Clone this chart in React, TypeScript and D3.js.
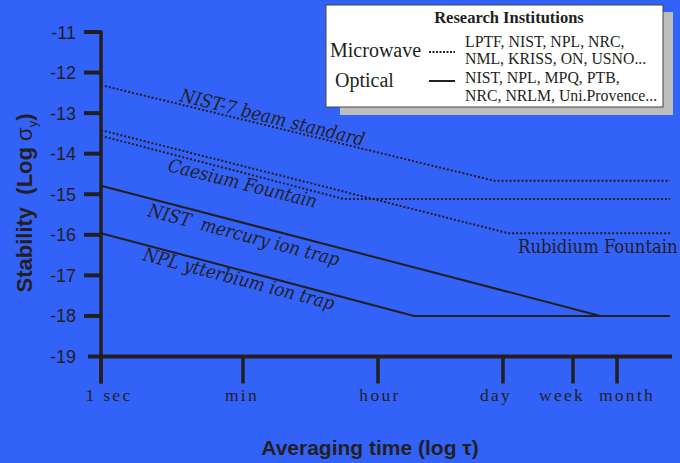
import React from 'react';
import * as d3 from 'd3';

// ---- data ----
const yTickValues = [-11, -12, -13, -14, -15, -16, -17, -18, -19];
const xTickValues = [1, 60, 3600, 86400, 604800, 2592000];
const xTickLabels = ['1 sec', 'min', 'hour', 'day', 'week', 'month'];

// averaging time tau (s) and log stability
const nist7Tau = [1, 7e4, 1.5e7];
const nist7Sigma = [-12.31, -14.67, -14.67];
const caesiumTau = [1, 1300, 1.5e7];
const caesiumSigma = [-13.56, -15.12, -15.12];
const rubidiumTau = [1, 1e5, 1.5e7];
const rubidiumSigma = [-13.42, -15.96, -15.96];
const mercuryTau = [1, 1.5e6];
const mercurySigma = [-14.79, -18];
const ytterbiumTau = [1, 9000, 1.5e7];
const ytterbiumSigma = [-15.96, -18, -18];

const legendTitle = 'Research Institutions';
const legendCategories = ['Microwave', 'Optical'];
const microwaveInstitutes = ['LPTF, NIST, NPL, NRC,', 'NML, KRISS, ON, USNO...'];
const opticalInstitutes = ['NIST, NPL, MPQ, PTB,', 'NRC, NRLM, Uni.Provence...'];

const AXIS_END = 1.6e7;

export default function App() {
  const W = 680;
  const H = 463;
  const BG = '#3362f8';
  const INK = '#231f20';

  const x = d3.scaleLog().domain(xTickValues).range([101, 243, 378, 503, 573, 617]);
  const y = d3.scaleLinear().domain([-19, -11]).range([356.5, 32]);

  const line = d3
    .line<[number, number]>()
    .x((d) => x(d[0]))
    .y((d) => y(d[1]));

  const zip = (a: number[], b: number[]) => a.map((v, i) => [v, b[i]] as [number, number]);

  const series = [
    { pts: zip(nist7Tau, nist7Sigma), dotted: true },
    { pts: zip(caesiumTau, caesiumSigma), dotted: true },
    { pts: zip(rubidiumTau, rubidiumSigma), dotted: true },
    { pts: zip(mercuryTau, mercurySigma), dotted: false },
    { pts: zip(ytterbiumTau, ytterbiumSigma), dotted: false },
  ];

  const x0 = x(1);
  const xEnd = x(AXIS_END);
  const yBase = y(-19);
  const xLabelDx = [8, -1, 2, -7, -11, 10];

  const serif = '"DejaVu Serif Condensed", "DejaVu Serif", serif';
  const times = '"Liberation Serif", serif';
  const sans = '"Liberation Sans", Arial, sans-serif';

  const curveLabels = [
    { text: 'NIST-7 beam standard', px: 179, py: 101, rot: 13.8 },
    { text: 'Caesium Fountain', px: 167, py: 171, rot: 14 },
    { text: 'NIST  mercury ion trap', px: 147, py: 216, rot: 14.7 },
    { text: 'NPL ytterbium ion trap', px: 142, py: 260, rot: 14.7 },
  ];

  return (
    <svg
      width={W}
      height={H}
      style={{ position: 'absolute', left: 0, top: 0, display: 'block' }}
    >
      <rect x={0} y={0} width={W} height={H} fill={BG} />

      {/* y axis */}
      <line x1={x0} x2={x0} y1={y(-11) - 1.5} y2={yBase + 27} stroke={INK} strokeWidth={3.5} />
      {yTickValues.map((v) => (
        <g key={v}>
          {v !== -19 && (
            <line x1={x0 - 17} x2={x0} y1={y(v)} y2={y(v)} stroke={INK} strokeWidth={4} />
          )}
          <text
            x={76}
            y={y(v) + 6.5}
            textAnchor="end"
            fontFamily={sans}
            fontSize={18}
            fill={INK}
          >
            {v}
          </text>
        </g>
      ))}

      {/* x axis */}
      <line x1={x0 - 13} x2={xEnd} y1={yBase} y2={yBase} stroke={INK} strokeWidth={4} />
      {xTickValues.map((v, i) => (
        <g key={v}>
          <line x1={x(v)} x2={x(v)} y1={yBase} y2={yBase + 27} stroke={INK} strokeWidth={3.5} />
          <text
            x={x(v) + xLabelDx[i]}
            y={401}
            textAnchor="middle"
            fontFamily={times}
            fontSize={17.5}
            letterSpacing={2.3}
            fill={INK}
          >
            {xTickLabels[i]}
          </text>
        </g>
      ))}

      {/* series */}
      {series.map((s, i) => (
        <path
          key={i}
          d={line(s.pts) || ''}
          fill="none"
          stroke={INK}
          strokeWidth={2}
          strokeDasharray={s.dotted ? '2,2' : undefined}
        />
      ))}

      {/* curve labels */}
      {curveLabels.map((l) => (
        <text
          key={l.text}
          transform={`translate(${l.px},${l.py}) rotate(${l.rot})`}
          fontFamily={serif}
          fontStyle="italic"
          fontStretch="condensed"
          fontSize={18.5}
          fill={INK}
          style={{ whiteSpace: 'pre' }}
        >
          {l.text}
        </text>
      ))}
      <text x={518} y={253} fontFamily={serif} fontStretch="condensed" fontSize={18.3} fill={INK}>
        Rubidium Fountain
      </text>

      {/* axis titles */}
      <text
        x={370}
        y={455}
        textAnchor="middle"
        fontFamily={sans}
        fontWeight="bold"
        fontSize={21}
        fill={INK}
      >
        Averaging time (log τ)
      </text>
      <text
        transform="translate(32,203) rotate(-90)"
        textAnchor="middle"
        fontFamily={sans}
        fontWeight="bold"
        fontSize={22}
        fill={INK}
        style={{ whiteSpace: 'pre' }}
      >
        {'Stability  (Log '}
        <tspan fontWeight="normal">σ</tspan>
        <tspan fontWeight="normal" fontSize={13} dy={5}>y</tspan>
        <tspan dy={-5}>)</tspan>
      </text>

      {/* legend */}
      <rect x={340} y={12} width={333} height={103} fill="#bdbdbd" />
      <rect x={326} y={5} width={337} height={102} fill="#ffffff" stroke="#444" strokeWidth={1} />
      <text x={509} y={23} textAnchor="middle" fontFamily={times} fontWeight="bold" fontSize={16.5} fill={INK}>
        {legendTitle}
      </text>
      <text x={330} y={57} fontFamily={times} fontSize={20} fill={INK}>
        {legendCategories[0]}
      </text>
      <text x={335} y={87} fontFamily={times} fontSize={20} fill={INK}>
        {legendCategories[1]}
      </text>
      <line x1={429} x2={455} y1={52} y2={52} stroke={INK} strokeWidth={2} strokeDasharray="2,1.5" />
      <line x1={429} x2={455} y1={81} y2={81} stroke={INK} strokeWidth={2} />
      {microwaveInstitutes.map((t, i) => (
        <text key={t} x={465} y={46.5 + i * 17.5} fontFamily={times} fontSize={15.8} fill={INK}>
          {t}
        </text>
      ))}
      {opticalInstitutes.map((t, i) => (
        <text key={t} x={465} y={83 + i * 17.5} fontFamily={times} fontSize={15.8} fill={INK}>
          {t}
        </text>
      ))}
    </svg>
  );
}
